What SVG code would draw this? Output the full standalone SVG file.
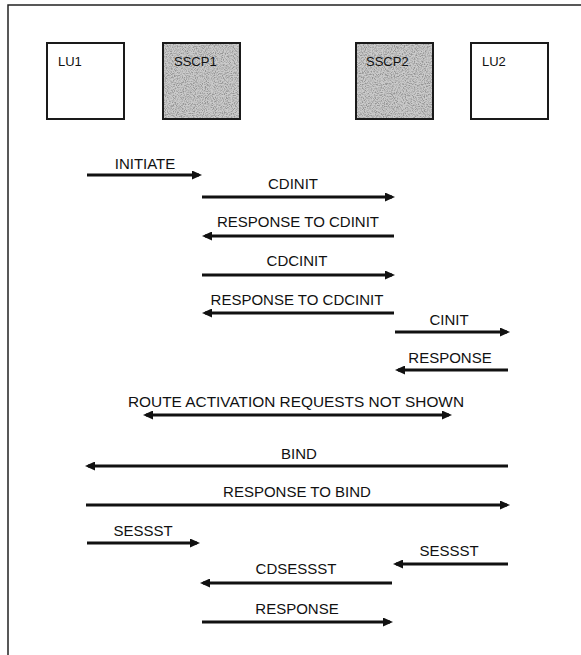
<svg xmlns="http://www.w3.org/2000/svg" width="581" height="655" viewBox="0 0 581 655">
<defs>
<style>
.frame{stroke:#222;stroke-width:1.5;fill:none}
.box{fill:#fff;stroke:#1a1a1a;stroke-width:2}
.shade{fill:#bbb}
.edge{fill:none;stroke:#1a1a1a;stroke-width:2}
.nl{font-family:"Liberation Sans",Arial,sans-serif;font-size:13px;fill:#111}
.msg{stroke:#111;stroke-width:3;fill:none;marker-end:url(#ah)}
.lbl{font-family:"Liberation Sans",Arial,sans-serif;font-size:15px;fill:#111;text-anchor:middle}
</style>
<marker id="ah" markerUnits="userSpaceOnUse" markerWidth="11" markerHeight="9" refX="7" refY="4.5" orient="auto">
<path d="M0,0 L10,4.5 L0,9 z" fill="#111"/>
</marker>
<marker id="ahs" markerUnits="userSpaceOnUse" markerWidth="11" markerHeight="9" refX="7" refY="4.5" orient="auto-start-reverse">
<path d="M0,0 L10,4.5 L0,9 z" fill="#111"/>
</marker>
<filter id="stipple" x="0" y="0" width="100%" height="100%">
<feTurbulence type="fractalNoise" baseFrequency="0.9" numOctaves="2" seed="7" result="n"/>
<feColorMatrix in="n" type="matrix" values="0 0 0 0 0.3  0 0 0 0 0.3  0 0 0 0 0.3  3.2 0 0 0 -1.3" result="dots"/>
<feFlood flood-color="#cbcbcb" result="bg"/>
<feComposite in="dots" in2="bg" operator="over" result="mix"/>
<feComposite in="mix" in2="SourceGraphic" operator="in"/>
</filter>
</defs>
<rect width="581" height="655" fill="#fff"/>
<path class="frame" d="M8,655 L8,5 L581,5"/>
<g id="LU1">
<rect class="box" x="47" y="43" width="77" height="76"/>
<text class="nl" x="58" y="66">LU1</text>
</g>
<g id="SSCP1">
<rect class="shade" x="163" y="43" width="77" height="76" filter="url(#stipple)"/>
<rect class="edge" x="163" y="43" width="77" height="76"/>
<text class="nl" x="174" y="66">SSCP1</text>
</g>
<g id="SSCP2">
<rect class="shade" x="356" y="43" width="77" height="76" filter="url(#stipple)"/>
<rect class="edge" x="356" y="43" width="77" height="76"/>
<text class="nl" x="366" y="66">SSCP2</text>
</g>
<g id="LU2">
<rect class="box" x="471" y="43" width="77" height="76"/>
<text class="nl" x="482" y="66">LU2</text>
</g>
<g id="connectors">
<path class="msg" d="M87,175 L199,175"/>
<path class="msg" d="M202,197 L392,197"/>
<path class="msg" d="M394,236 L205,236"/>
<path class="msg" d="M202,275 L392,275"/>
<path class="msg" d="M394,313 L205,313"/>
<path class="msg" d="M395,332 L507,332"/>
<path class="msg" d="M508,370 L398,370"/>
<path class="msg" d="M146,415 L449,415" style="marker-start:url(#ahs)"/>
<path class="msg" d="M508,466 L88,466"/>
<path class="msg" d="M86,505 L507,505"/>
<path class="msg" d="M87,543 L197,543"/>
<path class="msg" d="M508,564 L396,564"/>
<path class="msg" d="M392,583 L203,583"/>
<path class="msg" d="M202,622 L390,622"/>
</g>
<g id="labels">
<text class="lbl" x="145" y="169">INITIATE</text>
<text class="lbl" x="293" y="189">CDINIT</text>
<text class="lbl" x="298" y="227">RESPONSE TO CDINIT</text>
<text class="lbl" x="297" y="266">CDCINIT</text>
<text class="lbl" x="297" y="305">RESPONSE TO CDCINIT</text>
<text class="lbl" x="449" y="325">CINIT</text>
<text class="lbl" x="450" y="363">RESPONSE</text>
<text class="lbl" x="296" y="407" textLength="336" lengthAdjust="spacingAndGlyphs">ROUTE ACTIVATION REQUESTS NOT SHOWN</text>
<text class="lbl" x="299" y="459">BIND</text>
<text class="lbl" x="297" y="497">RESPONSE TO BIND</text>
<text class="lbl" x="143" y="536">SESSST</text>
<text class="lbl" x="449" y="556">SESSST</text>
<text class="lbl" x="296" y="574">CDSESSST</text>
<text class="lbl" x="297" y="614">RESPONSE</text>
</g>
</svg>
